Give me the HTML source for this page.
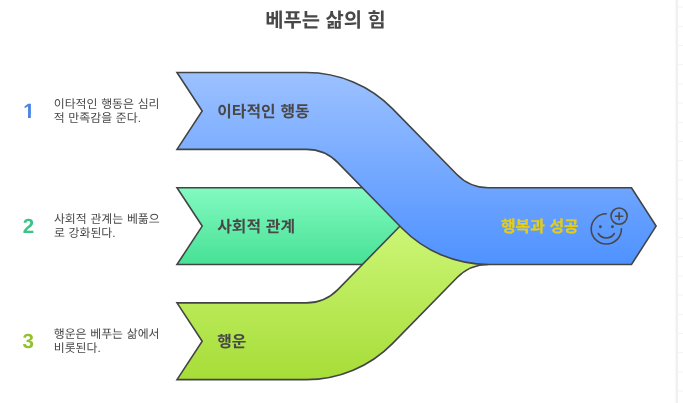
<!DOCTYPE html>
<html lang="ko">
<head>
<meta charset="utf-8">
<title>베푸는 삶의 힘</title>
<style>
html,body{margin:0;padding:0;background:#fff;}
body{width:683px;height:403px;overflow:hidden;position:relative;font-family:"Liberation Sans","Noto Sans CJK KR",sans-serif;}
svg{position:absolute;left:0;top:0;display:block;will-change:transform;}
text{font-family:"Liberation Sans","Noto Sans CJK KR",sans-serif;text-rendering:geometricPrecision;}
.t{font-weight:700;fill:#484848;}
.d{font-weight:400;fill:#484848;font-size:11.9px;word-spacing:0.4px;}
.n{font-weight:700;font-size:20.6px;}
.l{font-weight:700;fill:#484848;font-size:15.85px;word-spacing:0.4px;}
</style>
</head>
<body>
<svg width="683" height="403" viewBox="0 0 683 403">
<defs>
<linearGradient id="gb" x1="0" y1="72.5" x2="0" y2="264.5" gradientUnits="userSpaceOnUse"><stop offset="0" stop-color="#9cc1ff"/><stop offset="1" stop-color="#4f92ff"/></linearGradient>
<linearGradient id="gg" x1="0" y1="187.5" x2="0" y2="264.5" gradientUnits="userSpaceOnUse"><stop offset="0" stop-color="#83fac1"/><stop offset="1" stop-color="#47e195"/></linearGradient>
<linearGradient id="gl" x1="0" y1="187.5" x2="0" y2="379.5" gradientUnits="userSpaceOnUse"><stop offset="0" stop-color="#d5fc86"/><stop offset="1" stop-color="#a7dd38"/></linearGradient>
<clipPath id="c1"><path d="M15,95H45V115.1H30.85V119H28V115.1H15Z"/></clipPath>
</defs>
<path d="M676.75,0V403" fill="none" stroke="#f0f0f0" stroke-width="2.4"/>
<path d="M676,7.1H683M676,26.3H683M676,45.5H683M676,64.7H683M676,83.9H683M676,103.1H683M676,122.3H683M676,141.5H683M676,160.7H683M676,179.9H683M676,199.1H683M676,218.3H683M676,237.5H683M676,256.7H683M676,275.9H683M676,295.1H683M676,314.3H683M676,333.5H683M676,352.7H683M676,371.9H683M676,391.1H683" fill="none" stroke="#f3f3f3" stroke-width="1"/>
<path fill="url(#gg)" d="M177,187.7 H430 V264.5 H177 L202.2,226.1 Z"/>
<path fill="none" stroke="#434445" stroke-width="1.6" d="M430,187.7 H177 L202.2,226.1 L177,264.5 H430"/>
<path fill="url(#gl)" d="M177,379.65 H306.3 A120.9,120.9 0 0 0 392.68,343.34 L456.91,277.74 A44.1,44.1 0 0 1 488.42,264.5 H490.42 V187.7 H488.42 A120.9,120.9 0 0 0 402.04,224.01 L337.81,289.61 A44.1,44.1 0 0 1 306.3,302.85 H177 L202.2,341.25 Z"/>
<path fill="none" stroke="#434445" stroke-width="1.6" d="M488.42,187.7 A120.9,120.9 0 0 0 402.04,224.01 L337.81,289.61 A44.1,44.1 0 0 1 306.3,302.85 H177 L202.2,341.25 L177,379.65 H306.3 A120.9,120.9 0 0 0 392.68,343.34 L456.91,277.74 A44.1,44.1 0 0 1 488.42,264.5"/>
<path fill="url(#gb)" stroke="#434445" stroke-width="1.6" d="M177,72.55 H306.3 A120.9,120.9 0 0 1 392.68,108.86 L456.91,174.46 A44.1,44.1 0 0 0 488.42,187.7 H631.5 L656.1,226.1 L631.5,264.5 H488.42 A120.9,120.9 0 0 1 402.04,228.19 L337.81,162.59 A44.1,44.1 0 0 0 306.3,149.35 H177 L202.2,110.95 Z"/>
<g fill="none" stroke="#484848" stroke-width="1.6" stroke-linecap="round" stroke-linejoin="round">
<path d="M606.3,213.8 A15.1,15.1 0 1 0 621.4,228.9"/>
<circle cx="619.1" cy="216.1" r="8.1"/>
<path d="M615.5,216.2H622.7M619.1,212.8V219.6"/>
<path d="M598.3,233.5 A9.4,9.4 0 0 0 614.3,233.5"/>
<circle cx="600.4" cy="226.8" r="0.65" fill="#484848"/>
<circle cx="612.4" cy="226.8" r="0.65" fill="#484848"/>
</g>
<text class="t" x="325.5" y="27.2" font-size="19.85" text-anchor="middle">베푸는 삶의 힘</text>
<g clip-path="url(#c1)"><text class="n" x="23.2" y="117.7" fill="#4a84e4">1</text></g>
<text class="n" x="22.8" y="232.8" fill="#3dc385">2</text>
<text class="n" x="22.5" y="347.8" fill="#93c12e">3</text>
<text class="d" x="53.7" y="108">이타적인 행동은 심리</text>
<text class="d" x="53.7" y="122">적 만족감을 준다.</text>
<text class="d" x="53.9" y="223">사회적 관계는 베풂으</text>
<text class="d" x="53.9" y="237">로 강화된다.</text>
<text class="d" x="53.7" y="338">행운은 베푸는 삶에서</text>
<text class="d" x="53.7" y="352">비롯된다.</text>
<text class="l" x="217.3" y="116.8">이타적인 행동</text>
<text class="l" x="217.3" y="231.8">사회적 관계</text>
<text class="l" x="217.3" y="346.8">행운</text>
<text class="l" x="578.7" y="231.8" text-anchor="end" style="fill:#e4cc1a;stroke:#e4cc1a;stroke-width:0.3px">행복과 성공</text>
</svg>
</body>
</html>
